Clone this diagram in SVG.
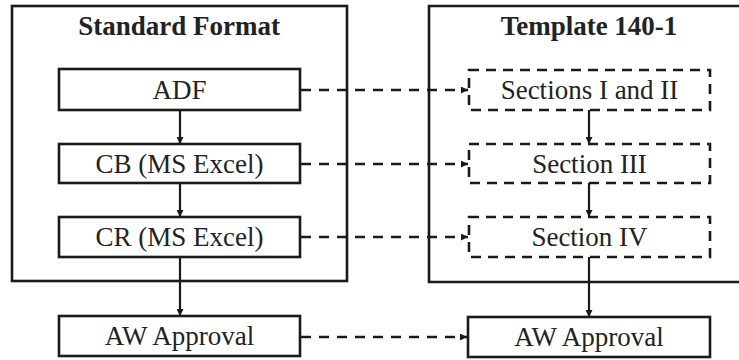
<svg xmlns="http://www.w3.org/2000/svg" width="739" height="360" viewBox="0 0 739 360">
<defs>
<style>
.frame{fill:none;stroke:#1a1a1a;stroke-width:2.6}
.box{fill:#fff;stroke:#1a1a1a;stroke-width:2.6}
.dbox{fill:#fff;stroke:#1a1a1a;stroke-width:2.6;stroke-dasharray:10 7}
.title{font-family:'Liberation Serif','Times New Roman',serif;font-weight:bold;font-size:27px;fill:#222;text-anchor:middle}
.lbl{font-family:'Liberation Serif','Times New Roman',serif;font-size:27px;fill:#222;text-anchor:middle}
.arr{fill:none;stroke:#1a1a1a;stroke-width:2.2;marker-end:url(#ah)}
.darr{fill:none;stroke:#1a1a1a;stroke-width:2.6;stroke-dasharray:10 8;marker-end:url(#ah)}
</style>
<marker id="ah" viewBox="0 0 10 10" refX="10" refY="5" markerUnits="userSpaceOnUse" markerWidth="8" markerHeight="7" orient="auto">
<path d="M0,0 L10,5 L0,10 z" fill="#1a1a1a"/>
</marker>
</defs>
<g id="standard-format">
<rect class="frame" x="12" y="6" width="335" height="275"/>
<text class="title" x="179" y="35">Standard Format</text>
</g>
<g id="template-140-1">
<path class="frame" d="M745,6 H429 V282 H745"/>
<text class="title" x="589" y="35">Template 140-1</text>
</g>
<g id="connectors">
<line class="arr" x1="180" y1="110" x2="180" y2="144"/>
<line class="arr" x1="180" y1="183" x2="180" y2="217"/>
<line class="arr" x1="180" y1="257" x2="180" y2="316"/>
<line class="arr" x1="589" y1="110" x2="589" y2="144"/>
<line class="arr" x1="589" y1="183" x2="589" y2="217"/>
<line class="arr" x1="589" y1="257" x2="589" y2="317"/>
<line class="darr" x1="301" y1="90" x2="468" y2="90"/>
<line class="darr" x1="301" y1="164" x2="468" y2="164"/>
<line class="darr" x1="301" y1="237" x2="468" y2="237"/>
<line class="darr" x1="301" y1="337" x2="467" y2="337"/>
</g>
<g id="adf">
<rect class="box" x="59" y="69" width="241" height="41"/>
<text class="lbl" x="179.5" y="99">ADF</text>
</g>
<g id="cb">
<rect class="box" x="59" y="144" width="241" height="39"/>
<text class="lbl" x="179.5" y="173">CB (MS Excel)</text>
</g>
<g id="cr">
<rect class="box" x="59" y="217" width="241" height="40"/>
<text class="lbl" x="179.5" y="246">CR (MS Excel)</text>
</g>
<g id="aw-left">
<rect class="box" x="59" y="316" width="241" height="40"/>
<text class="lbl" x="179.5" y="345">AW Approval</text>
</g>
<g id="sections-1-2">
<rect class="dbox" x="469" y="70" width="241" height="40"/>
<text class="lbl" x="589.5" y="99">Sections I and II</text>
</g>
<g id="section-3">
<rect class="dbox" x="469" y="144" width="241" height="39"/>
<text class="lbl" x="589.5" y="173">Section III</text>
</g>
<g id="section-4">
<rect class="dbox" x="469" y="217" width="241" height="40"/>
<text class="lbl" x="589.5" y="246">Section IV</text>
</g>
<g id="aw-right">
<rect class="box" x="468" y="317" width="242" height="40"/>
<text class="lbl" x="589" y="346">AW Approval</text>
</g>
</svg>
